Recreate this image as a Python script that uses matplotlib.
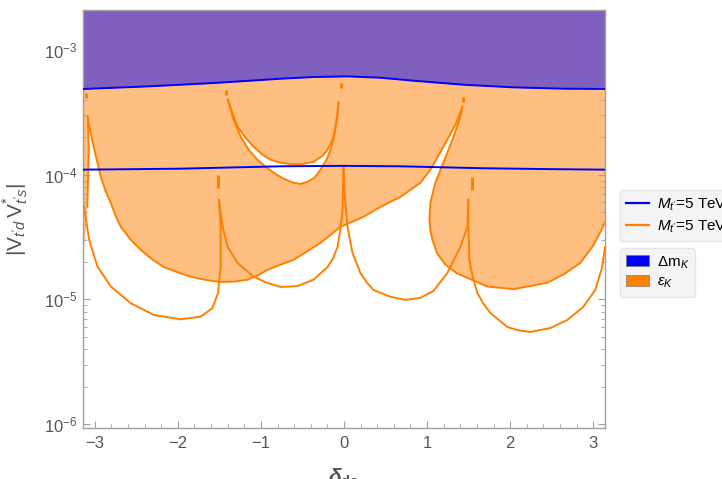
import numpy as np
import matplotlib.pyplot as plt
from matplotlib.lines import Line2D
from matplotlib.patches import Patch
from matplotlib.ticker import MultipleLocator, LogLocator, NullFormatter

plt.rcParams['font.family'] = ['Liberation Sans', 'DejaVu Sans']
plt.rcParams['mathtext.fontset'] = 'custom'
plt.rcParams['mathtext.rm'] = 'Liberation Sans'
plt.rcParams['mathtext.it'] = 'Liberation Sans:italic'
plt.rcParams['mathtext.bf'] = 'Liberation Sans:bold'
plt.rcParams['mathtext.bfit'] = 'Liberation Sans:italic:bold'

PI = np.pi
y_lo, y_hi = 9.3e-7, 2.1e-3
xtick_vals = [-3, -2, -1, 0, 1, 2, 3]

''' Delta m_K bounds (blue lines) '''
dm_up_x = [-PI, -2.363, -1.569, -1.15, -0.763, -0.367, 0.042, 0.439, 0.835, 1.437, 2.038, 2.640, PI]
dm_up_y = [4.88e-4, 5.12e-4, 5.45e-4, 5.68e-4, 5.90e-4, 6.09e-4, 6.16e-4, 6.01e-4, 5.69e-4, 5.28e-4, 5.03e-4,
           4.91e-4, 4.88e-4]
dm_lo_x = [-PI, -2.5, -1.97, -0.763, 0.0, 0.68, 1.64, 2.5, PI]
dm_lo_y = [1.10e-4, 1.11e-4, 1.12e-4, 1.17e-4, 1.18e-4, 1.17e-4, 1.13e-4, 1.11e-4, 1.10e-4]

''' epsilon_K region boundaries (orange) '''
# left lobe lower edge, from left cusp to right cusp
lobeL_x = [-3.084, -3.072, -3.024, -2.976, -2.928, -2.87, -2.807, -2.75, -2.687, -2.62, -2.567, -2.447, -2.31,
           -2.170, -2.0, -1.846, -1.65, -1.485, -1.32, -1.160, -1.04, -0.920, -0.607, -0.283, -0.042, 0.234,
           0.439, 0.679, 0.920, 1.040, 1.196, 1.341, 1.425]
lobeL_y = [2.92e-4, 2.52e-4, 1.81e-4, 1.32e-4, 9.64e-5, 7.4e-5, 5.96e-5, 4.7e-5, 3.82e-5, 3.35e-5, 3.01e-5,
           2.50e-5, 2.1e-5, 1.82e-5, 1.65e-5, 1.52e-5, 1.43e-5, 1.38e-5, 1.39e-5, 1.44e-5, 1.56e-5, 1.73e-5,
           2.08e-5, 2.84e-5, 3.82e-5, 4.60e-5, 5.53e-5, 6.65e-5, 8.63e-5, 1.10e-4, 1.68e-4, 2.52e-4, 3.52e-4]
# right lobe edge, from cusp to right frame
lobeR_x = [1.425, 1.401, 1.305, 1.196, 1.100, 1.040, 1.028, 1.04, 1.064, 1.120, 1.22, 1.361, 1.722, 2.043,
           2.447, 2.65, 2.844, 3.0, PI]
lobeR_y = [3.52e-4, 2.92e-4, 1.91e-4, 1.25e-4, 8.63e-5, 5.96e-5, 4.35e-5, 3.6e-5, 3.01e-5, 2.35e-5, 1.9e-5,
           1.62e-5, 1.27e-5, 1.21e-5, 1.36e-5, 1.6e-5, 1.96e-5, 2.7e-5, 4.11e-5]
# thin strip along the left frame
strip_x = [-3.084, -3.072, -3.090, -3.115, -PI]
strip_y = [2.92e-4, 1.59e-4, 5.53e-5, 3.01e-5, 2.28e-5]

# white crescent between two U curves
uin_x = [-1.401, -1.281, -1.184, -1.088, -0.980, -0.884, -0.763, -0.643, -0.499, -0.367, -0.259, -0.198,
         -0.138, -0.102, -0.078, -0.066]
uin_y = [4.00e-4, 2.43e-4, 1.98e-4, 1.68e-4, 1.45e-4, 1.32e-4, 1.25e-4, 1.22e-4, 1.22e-4, 1.27e-4, 1.42e-4,
         1.59e-4, 1.91e-4, 2.43e-4, 3.03e-4, 3.79e-4]
uout_x = [-1.401, -1.329, -1.244, -1.148, -1.040, -0.944, -0.848, -0.728, -0.607, -0.523, -0.439, -0.355,
          -0.283, -0.210, -0.162, -0.114, -0.078, -0.066]
uout_y = [4.00e-4, 2.77e-4, 2.02e-4, 1.59e-4, 1.32e-4, 1.16e-4, 1.04e-4, 9.29e-5, 8.63e-5, 8.47e-5, 8.79e-5,
          9.46e-5, 1.10e-4, 1.32e-4, 1.59e-4, 2.10e-4, 3.15e-4, 3.79e-4]

# lower open loops
loop1_x = [-3.129, -3.068, -2.967, -2.807, -2.567, -2.287, -1.966, -1.725, -1.585, -1.517, -1.485, -1.485,
           -1.505]
loop1_y = [5.56e-5, 3.01e-5, 1.83e-5, 1.27e-5, 9.32e-6, 7.50e-6, 6.93e-6, 7.28e-6, 8.50e-6, 1.12e-5, 1.83e-5,
           3.85e-5, 6.30e-5]
loop2_x = [-1.505, -1.461, -1.401, -1.281, -1.088, -0.93, -0.763, -0.559, -0.367, -0.198, -0.13, -0.078,
           -0.045, -0.018, -0.006]
loop2_y = [6.30e-5, 3.82e-5, 2.64e-5, 1.96e-5, 1.52e-5, 1.36e-5, 1.26e-5, 1.28e-5, 1.44e-5, 1.82e-5, 2.15e-5,
           2.64e-5, 3.6e-5, 5.24e-5, 1.16e-4]
loop3_x = [-0.006, 0.006, 0.042, 0.102, 0.198, 0.27, 0.355, 0.559, 0.739, 0.920, 1.076, 1.244, 1.401, 1.485,
           1.497]
loop3_y = [1.16e-4, 7.17e-5, 3.82e-5, 2.36e-5, 1.63e-5, 1.38e-5, 1.19e-5, 1.05e-5, 9.91e-6, 1.03e-5, 1.17e-5,
           1.63e-5, 2.64e-5, 3.82e-5, 6.30e-5]
loop4_x = [1.497, 1.497, 1.509, 1.55, 1.605, 1.68, 1.761, 1.966, 2.1, 2.243, 2.483, 2.688, 2.880, 3.024,
           3.108, PI]
loop4_y = [6.30e-5, 3.82e-5, 2.08e-5, 1.5e-5, 1.13e-5, 9.2e-6, 7.80e-6, 6.01e-6, 5.65e-6, 5.48e-6, 5.90e-6,
           6.84e-6, 8.71e-6, 1.19e-5, 1.82e-5, 2.64e-5]

# short broken bits near the cusps
dash_x = [-3.108, -1.425, -0.042, 1.437, -1.521, 1.539]
dash_y0 = [4.56e-4, 4.82e-4, 5.48e-4, 4.23e-4, 1.00e-4, 9.64e-5]
dash_y1 = [4.16e-4, 4.39e-4, 5.00e-4, 3.86e-4, 7.86e-5, 7.58e-5]

blue = '#0000FF'
orange = '#FF8000'
orange_fill = '#FFBF80'
purple = '#8060BF'
grey_txt = '#555555'
grey_ax = '#A0A0A0'

fig = plt.figure(figsize=(7.22, 4.79), dpi=100)
ax = fig.add_axes([83/722, 1-428/479, 522/722, 418/479])
ax.set_yscale('log')

# orange allowed region
poly_x = np.concatenate([[-PI, PI], lobeR_x[::-1], lobeL_x[::-1], strip_x, [-PI]])
poly_y = np.concatenate([[y_hi, y_hi], lobeR_y[::-1], lobeL_y[::-1], strip_y, [y_hi]])
ax.fill(poly_x, poly_y, color=orange_fill, lw=0, zorder=1)
cres_x = np.concatenate([uout_x, uin_x[::-1]])
cres_y = np.concatenate([uout_y, uin_y[::-1]])
ax.fill(cres_x, cres_y, color='white', lw=0, zorder=1.5)

# excluded by Delta m_K
ax.fill_between(dm_up_x, dm_up_y, y_hi, color=purple, lw=0, zorder=2)

lw = 1.4
for xs, ys in [(lobeL_x, lobeL_y), (lobeR_x, lobeR_y), (strip_x[:3], strip_y[:3]), (uin_x, uin_y),
               (uout_x, uout_y), (loop1_x, loop1_y), (loop2_x, loop2_y), (loop3_x, loop3_y), (loop4_x, loop4_y)]:
    ax.plot(xs, ys, color=orange, lw=lw, zorder=3, solid_joinstyle='round')
ax.vlines(dash_x, dash_y0, dash_y1, color=orange, lw=2.2, zorder=3)

ax.plot(dm_up_x, dm_up_y, color=blue, lw=lw, zorder=4)
ax.plot(dm_lo_x, dm_lo_y, color=blue, lw=lw, zorder=4)

ax.set_xlim(-PI, PI)
ax.set_ylim(y_lo, y_hi)
ax.set_xticks(xtick_vals)
ax.xaxis.set_minor_locator(MultipleLocator(0.2))
ax.yaxis.set_minor_locator(LogLocator(base=10, subs=np.arange(2, 10)))
ax.yaxis.set_minor_formatter(NullFormatter())
ax.tick_params(which='both', direction='in', top=True, right=True, color=grey_ax,
               labelcolor=grey_txt, labelsize=12)
ax.tick_params(which='major', length=5, width=0.8)
ax.tick_params(which='minor', length=3, width=0.6)
ax.tick_params(axis='x', pad=6)
ax.tick_params(axis='y', pad=4)
for s in ax.spines.values():
    s.set_color(grey_ax)
    s.set_linewidth(1.0)

ax.set_xlabel(r'$\mathbfit{\delta}_{\mathbf{ds}}$', fontsize=15, color=grey_txt)
ax.xaxis.set_label_coords(0.5, -0.093)
ax.set_ylabel(r"$|\mathrm{V}_{t'd}\,\mathrm{V}^{*}_{t's}|$", fontsize=15, color=grey_txt)
ax.yaxis.set_label_coords(-0.10, 0.5)

h1 = [Line2D([], [], color=blue, lw=1.6), Line2D([], [], color=orange, lw=1.6)]
leg1 = fig.legend(h1, [r"$M_{t'}$=5 TeV", r"$M_{t'}$=5 TeV"], loc='upper left',
                  bbox_to_anchor=(620/722, 1-190/479), borderaxespad=0, fontsize=11,
                  handlelength=1.5, handletextpad=0.5, labelspacing=0.4, fancybox=True,
                  facecolor='#F4F4F4', edgecolor='#E6E6E6', framealpha=1)
h2 = [Patch(facecolor=blue, edgecolor='#777777', lw=0.5), Patch(facecolor=orange, edgecolor='#777777', lw=0.5)]
leg2 = fig.legend(h2, [r'$\Delta\mathrm{m}_K$', r'$\epsilon_K$'], loc='upper left',
                  bbox_to_anchor=(620/722, 1-248/479), borderaxespad=0, fontsize=11,
                  handlelength=1.5, handletextpad=0.5, labelspacing=0.3, fancybox=True,
                  facecolor='#F4F4F4', edgecolor='#E6E6E6', framealpha=1)
fig.add_artist(leg1)

fig.savefig('out.png', dpi=100)
